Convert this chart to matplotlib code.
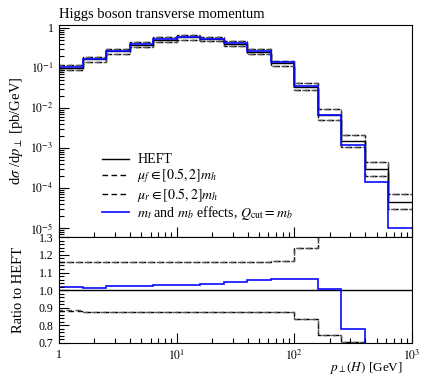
import numpy as np
import matplotlib.pyplot as plt
from matplotlib.ticker import FixedLocator, LogLocator, MultipleLocator, NullFormatter

plt.rcParams['font.family'] = ['Liberation Serif', 'DejaVu Serif']
plt.rcParams['mathtext.fontset'] = 'stix'

# bin edges in p_T(H) [GeV]
edges = [1, 1.585, 2.512, 3.981, 6.31, 10, 15.85, 25.12, 39.81, 63.1,
         100, 158.5, 251.2, 398.1, 631, 1000]
# HEFT prediction [pb/GeV]
heft = [0.100, 0.162, 0.258, 0.378, 0.505, 0.572, 0.52, 0.40, 0.252, 0.128,
        0.033, 0.0066, 0.0015, 2.9e-4, 4.4e-5]
# ratios to HEFT
ratio_mtmb = [1.019, 1.011, 1.023, 1.021, 1.028, 1.028, 1.034, 1.045, 1.055, 1.066,
              1.066, 1.006, 0.782, 0.47, 0.22]
ratio_muf_up = [1.159, 1.159, 1.159, 1.159, 1.159, 1.159, 1.159, 1.159, 1.159, 1.166,
                1.239, 1.40, 1.40, 1.48, 1.57]
ratio_muf_dn = [0.884, 0.877, 0.877, 0.877, 0.877, 0.877, 0.877, 0.877, 0.877, 0.876,
                0.835, 0.744, 0.705, 0.67, 0.65]
ratio_mur_up = [1.157, 1.158, 1.158, 1.158, 1.158, 1.158, 1.158, 1.158, 1.158, 1.165,
                1.238, 1.40, 1.40, 1.48, 1.57]
ratio_mur_dn = [0.886, 0.878, 0.878, 0.878, 0.878, 0.878, 0.878, 0.878, 0.878, 0.877,
                0.836, 0.745, 0.706, 0.67, 0.65]

heft = np.array(heft)
blue = '#0a0aff'

fig = plt.figure(figsize=(4.22, 3.76), dpi=100)
ax = fig.add_axes([0.1398, 0.3689, 0.8365, 0.5646])
axr = fig.add_axes([0.1398, 0.0878, 0.8365, 0.2811], sharex=ax)

ls_f = (0, (4, 2.5))
ls_r = (1.5, (4, 2.5))

# main panel
ax.stairs(heft * np.array(ratio_muf_up), edges, color='black', lw=1, ls=ls_f, baseline=None)
ax.stairs(heft * np.array(ratio_muf_dn), edges, color='black', lw=1, ls=ls_f, baseline=None)
ax.stairs(heft * np.array(ratio_mur_up), edges, color='#555555', lw=1, ls=ls_r, baseline=None)
ax.stairs(heft * np.array(ratio_mur_dn), edges, color='#555555', lw=1, ls=ls_r, baseline=None)
ax.stairs(heft, edges, color='black', lw=1, baseline=None)
ax.stairs(heft * np.array(ratio_mtmb), edges, color=blue, lw=1.2, baseline=None)

ax.plot([], [], color='black', lw=1, label='HEFT')
ax.plot([], [], color='black', lw=1, ls=ls_f, label=r'$\mu_f \in [0.5, 2]m_h$')
ax.plot([], [], color='black', lw=1, ls=ls_f, label=r'$\mu_r \in [0.5, 2]m_h$')
ax.plot([], [], color=blue, lw=1.2, label=r'$m_t$ and $m_b$ effects, $Q_{\rm cut} = m_b$')
ax.legend(loc='upper left', bbox_to_anchor=(0.102, 0.428), frameon=False, fontsize=10,
          handlelength=1.95, handletextpad=0.6, labelspacing=0.02, borderpad=0)

ax.set_xscale('log')
ax.set_yscale('log')
ax.set_xlim(1, 1000)
ax.set_ylim(5.75e-6, 1.17)
ax.yaxis.set_major_locator(FixedLocator([1e-5, 1e-4, 1e-3, 1e-2, 1e-1, 1]))
ax.set_yticklabels([r'$10^{-5}$', r'$10^{-4}$', r'$10^{-3}$', r'$10^{-2}$', r'$10^{-1}$', '1'])
ax.yaxis.set_minor_locator(LogLocator(base=10, subs=np.arange(2, 10), numticks=20))
ax.yaxis.set_minor_formatter(NullFormatter())
ax.set_ylabel(r'd$\sigma$ /d$p_\perp$ [pb/GeV]', fontsize=10.5)
ax.set_title('Higgs boson transverse momentum', loc='left', fontsize=10.5, pad=5)
ax.tick_params(axis='x', which='both', labelbottom=False)

# ratio panel
axr.stairs(ratio_muf_up, edges, color='black', lw=1, ls=ls_f, baseline=None)
axr.stairs(ratio_muf_dn, edges, color='black', lw=1, ls=ls_f, baseline=None)
axr.stairs(ratio_mur_up, edges, color='#555555', lw=1, ls=ls_r, baseline=None)
axr.stairs(ratio_mur_dn, edges, color='#555555', lw=1, ls=ls_r, baseline=None)
axr.stairs(heft / heft, edges, color='black', lw=1, baseline=None)
axr.stairs(ratio_mtmb, edges, color=blue, lw=1.2, baseline=None)
axr.set_ylim(0.7, 1.3)
axr.yaxis.set_major_locator(MultipleLocator(0.1))
axr.yaxis.set_minor_locator(MultipleLocator(0.02))
axr.set_yticks([0.7, 0.8, 0.9, 1.0, 1.1, 1.2, 1.3])
axr.set_yticklabels(['0.7', '0.8', '0.9', '1.0', '1.1', '1.2', '1.3'])
axr.xaxis.set_major_locator(FixedLocator([1, 10, 100, 1000]))
axr.set_xticklabels(['1', r'$10^1$', r'$10^2$', r'$10^3$'])
axr.set_ylabel('Ratio to HEFT', fontsize=10.5)
axr.set_xlabel(r'$p_\perp(H)$ [GeV]', fontsize=9.5, ha='right')

for a in (ax, axr):
    a.tick_params(which='both', direction='in', top=False, right=False, labelsize=8.5, pad=4)
    a.tick_params(which='major', length=7, width=0.8)
    a.tick_params(which='minor', length=3.5, width=0.8)
    for s in a.spines.values():
        s.set_linewidth(0.8)
ax.yaxis.set_label_coords(-0.095, 0.5)
axr.yaxis.set_label_coords(-0.095, 0.5)
axr.xaxis.set_label_coords(0.975, -0.165)

fig.savefig('out.png', dpi=100)
